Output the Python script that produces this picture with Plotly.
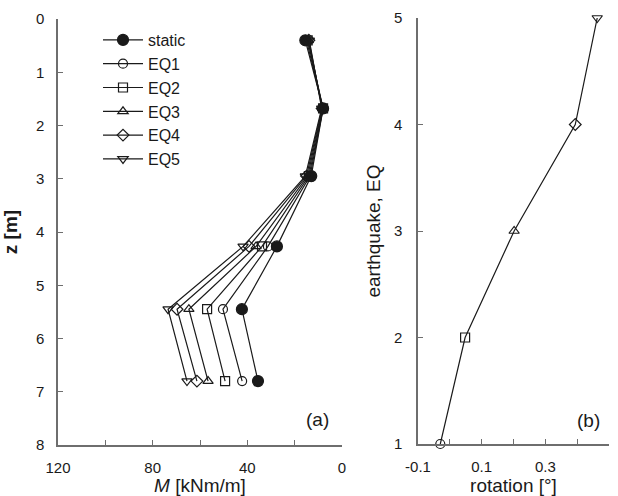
import plotly.graph_objects as go

# Depths of the moment profile points [m]
depth = [0.4, 1.68, 2.95, 4.27, 5.45, 6.8]

# Bending moment profiles M [kNm/m]
m_static = [15.5, 8.0, 13.0, 27.5, 42.3, 35.5]
m_eq1 = [15.0, 8.0, 13.5, 31.3, 50.3, 42.2]
m_eq2 = [14.5, 8.0, 14.0, 33.8, 57.0, 49.4]
m_eq3 = [14.2, 8.2, 14.5, 36.3, 64.7, 56.6]
m_eq4 = [14.0, 8.4, 15.0, 39.3, 69.7, 61.3]
m_eq5 = [13.8, 8.6, 15.5, 41.8, 73.5, 65.5]

series_names = ["static", "EQ1", "EQ2", "EQ3", "EQ4", "EQ5"]
series_values = [m_static, m_eq1, m_eq2, m_eq3, m_eq4, m_eq5]
symbols = ["circle", "circle-open", "square-open", "triangle-up-open",
           "diamond-open", "triangle-down-open"]

# Rotation per earthquake [deg]
eq_number = [1, 2, 3, 4, 5]
rotation = [-0.03, 0.048, 0.202, 0.394, 0.463]

ink = "#1a1a1a"
axis_col = "#6e6e6e"
font_family = "Liberation Sans, Arial, sans-serif"

fig = go.Figure()

for name, vals, sym in zip(series_names, series_values, symbols):
    fig.add_trace(go.Scatter(
        x=vals, y=depth, name=name, mode="lines+markers",
        line=dict(color=ink, width=1.2),
        marker=dict(symbol=sym, size=9 if sym != "circle" else 11,
                    color=ink, line=dict(color=ink, width=1.2)),
        xaxis="x", yaxis="y", cliponaxis=False,
    ))

fig.add_trace(go.Scatter(
    x=rotation, y=eq_number, mode="lines+markers", showlegend=False,
    line=dict(color=ink, width=1.2),
    marker=dict(symbol=symbols[1:], size=9, color=ink,
                line=dict(color=ink, width=1.2)),
    xaxis="x2", yaxis="y2", cliponaxis=False,
))

axis_common = dict(
    showline=True, linecolor=axis_col, linewidth=1.5,
    ticks="inside", ticklen=5, tickcolor=axis_col, tickwidth=1.2,
    showgrid=False, zeroline=False, mirror=False, automargin=False,
    tickfont=dict(family=font_family, size=15, color=ink),
    title_font=dict(family=font_family, size=19, color=ink),
)

fig.update_layout(
    width=618, height=496,
    margin=dict(l=0, r=0, t=0, b=0),
    paper_bgcolor="white", plot_bgcolor="white",
    font=dict(family=font_family, color=ink),
    xaxis=dict(
        **axis_common, domain=[58 / 618, 342 / 618], anchor="y",
        range=[120, 0], tickvals=[0, 40, 80, 120],
        minor=dict(tickvals=[20, 60, 100], ticks="inside", ticklen=5,
                   tickcolor=axis_col),
        ticklabelstandoff=8,
        title=dict(text="<i>M</i> [kNm/m]", standoff=4),
    ),
    yaxis=dict(
        **axis_common, domain=[1 - 445 / 496, 1 - 19 / 496], anchor="x",
        range=[8, 0], dtick=1, ticklabelstandoff=9,
        title=dict(text="<b>z [m]</b>", standoff=13),
    ),
    xaxis2=dict(
        **axis_common, domain=[418 / 618, 609 / 618], anchor="y2",
        range=[-0.1, 0.5], tickvals=[-0.1, 0.1, 0.3, 0.5],
        ticktext=["-0.1", "0.1", "0.3", "0.5"],
        minor=dict(tickvals=[0, 0.2, 0.4], ticks="inside", ticklen=5,
                   tickcolor=axis_col),
        ticklabelstandoff=8,
        title=dict(text="rotation [°]", standoff=4),
    ),
    yaxis2=dict(
        **axis_common, domain=[1 - 444 / 496, 1 - 18 / 496], anchor="x2",
        range=[1, 5], dtick=1, ticklabelstandoff=11,
        title=dict(text="earthquake, EQ", standoff=8),
    ),
    legend=dict(
        x=98 / 618, y=1 - 23 / 496, xanchor="left", yanchor="top",
        bgcolor="rgba(0,0,0,0)", font=dict(family=font_family, size=16, color=ink),
        tracegroupgap=0, itemwidth=40,
    ),
    annotations=[
        dict(text="(a)", x=0.96, y=0.059, xref="x domain", yref="y domain",
             xanchor="right", yanchor="middle", showarrow=False,
             font=dict(family=font_family, size=19, color=ink)),
        dict(text="(b)", x=0.963, y=0.056, xref="x2 domain", yref="y2 domain",
             xanchor="right", yanchor="middle", showarrow=False,
             font=dict(family=font_family, size=19, color=ink)),
    ],
)

fig.write_html("out.html")
